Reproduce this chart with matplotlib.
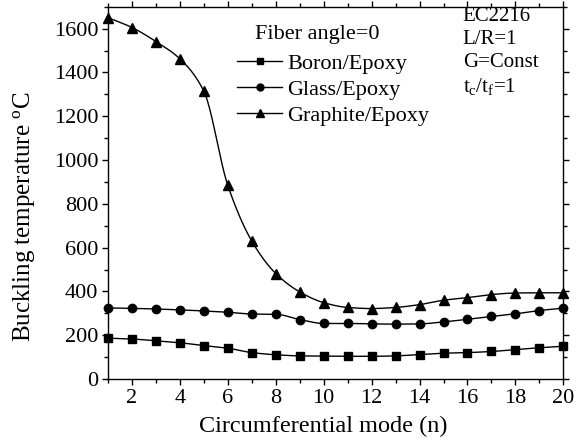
import numpy as np
import matplotlib
matplotlib.use("Agg")
import matplotlib.pyplot as plt
from matplotlib.ticker import MultipleLocator
from matplotlib.lines import Line2D

plt.rcParams['font.family'] = ['Liberation Serif', 'DejaVu Serif']
plt.rcParams['mathtext.fontset'] = 'custom'
plt.rcParams['mathtext.rm'] = 'Liberation Serif'
plt.rcParams['mathtext.it'] = 'Liberation Serif'

# Buckling temperature vs circumferential mode number
n = np.arange(1, 21)
boron = [187, 183, 175, 166, 153, 141, 121, 111, 106, 105,
         104, 104, 106, 112, 118, 121, 126, 135, 143, 150]
glass = [325, 323, 320, 316, 311, 305, 297, 296, 272, 254,
         254, 252, 251, 252, 261, 273, 286, 298, 313, 324]
graphite = [1650, 1605, 1541, 1462, 1314, 884, 630, 482, 398, 349,
            327, 322, 327, 340, 360, 372, 386, 393, 394, 394]

series = [
    ("Boron/Epoxy", boron, "s"),
    ("Glass/Epoxy", glass, "o"),
    ("Graphite/Epoxy", graphite, "^"),
]


def smooth(x, y, num=400):
    # monotone cubic (PCHIP) curve through the points, used only for the drawn line
    x = np.asarray(x, float)
    y = np.asarray(y, float)
    h = np.diff(x)
    d = np.diff(y) / h
    m = np.zeros_like(y)
    for i in range(1, len(x) - 1):
        if d[i - 1] * d[i] > 0:
            w1 = 2 * h[i] + h[i - 1]
            w2 = h[i] + 2 * h[i - 1]
            m[i] = (w1 + w2) / (w1 / d[i - 1] + w2 / d[i])
    m[0] = d[0]
    m[-1] = d[-1]
    xs = np.linspace(x[0], x[-1], num)
    k = np.clip(np.searchsorted(x, xs) - 1, 0, len(x) - 2)
    t = (xs - x[k]) / h[k]
    h00 = 2 * t**3 - 3 * t**2 + 1
    h10 = t**3 - 2 * t**2 + t
    h01 = -2 * t**3 + 3 * t**2
    h11 = t**3 - t**2
    ys = h00 * y[k] + h10 * h[k] * m[k] + h01 * y[k + 1] + h11 * h[k] * m[k + 1]
    return xs, ys


fig = plt.figure(figsize=(5.76, 4.46), dpi=100)
ax = fig.add_axes([0.1875, 0.150, 0.7905, 0.835])

handles = []
for label, vals, mk in series:
    xs, ys = smooth(n, vals)
    ax.plot(xs, ys, color='black', lw=1.0)
    ms = 7 if mk == '^' else 6
    ax.plot(n, vals, linestyle='none', marker=mk, color='black', ms=ms, clip_on=False)
    handles.append(Line2D([], [], color='black', lw=1.0, marker=mk, ms=ms - 1, label=label))

ax.set_xlim(1, 20)
ax.set_ylim(0, 1700)
ax.xaxis.set_major_locator(MultipleLocator(2))
ax.xaxis.set_minor_locator(MultipleLocator(1))
ax.yaxis.set_major_locator(MultipleLocator(200))
ax.yaxis.set_minor_locator(MultipleLocator(100))
ax.tick_params(which='both', direction='out', top=True, right=True,
               labeltop=False, labelright=False, width=1.0)
ax.tick_params(which='major', length=4, labelsize=16, pad=3)
ax.tick_params(which='minor', length=3)
for s in ax.spines.values():
    s.set_linewidth(1.0)

ax.set_xlabel("Circumferential mode (n)", fontsize=17.5)
ax.set_ylabel("Buckling temperature $^{\\rm o}$C", fontsize=18)
ax.xaxis.set_label_coords(0.472, -0.099)
ax.yaxis.set_label_coords(-0.155, 0.435)

# legend heading sits a little left of the entries
ax.text(0.323, 0.925, "Fiber angle=0", transform=ax.transAxes,
        ha='left', va='center', fontsize=16)
leg = ax.legend(handles=handles, loc='upper left',
                bbox_to_anchor=(0.284, 0.874), frameon=False, fontsize=16,
                handlelength=2.0, handletextpad=0.25,
                labelspacing=0.24, borderpad=0, borderaxespad=0)

ax.text(0.779, 1.0, "EC2216\nL/R=1\nG=Const\nt$_{\\rm c}$/t$_{\\rm f}$=1",
        transform=ax.transAxes, ha='left', va='top', fontsize=15,
        linespacing=1.28)

fig.savefig("out.png", dpi=100)
